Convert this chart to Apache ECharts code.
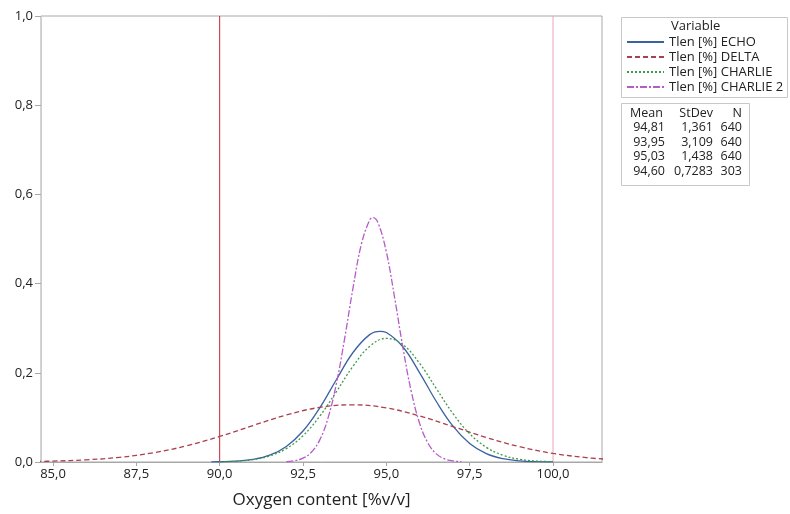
<!DOCTYPE html>
<html><head><meta charset="utf-8">
<script src="https://cdn.jsdelivr.net/npm/echarts@6/dist/echarts.min.js"></script>
<style>html,body{margin:0;padding:0;background:#fff}#c{width:790px;height:514px}</style>
</head><body><div id="c"></div>
<script>
// Data (normal density curves)
const seriesNames = ['Tlen [%] ECHO', 'Tlen [%] DELTA', 'Tlen [%] CHARLIE', 'Tlen [%] CHARLIE 2'];

const echoX = [89.75, 90, 90.5, 91, 91.5, 92, 92.5, 93, 93.5, 94, 94.5, 94.81, 95, 95.5, 96, 96.5, 97, 97.5, 98, 98.5, 99, 99.5, 100];
const echoY = [0.0003, 0.0006, 0.0020, 0.0058, 0.0152, 0.0348, 0.0694, 0.1210, 0.1845, 0.2455, 0.2856, 0.2931, 0.2903, 0.2578, 0.2000, 0.1356, 0.0803, 0.0416, 0.0188, 0.0074, 0.0026, 0.0008, 0.0002];

const deltaX = [84.5, 85, 86, 87, 88, 89, 90, 91, 92, 93, 94, 95, 96, 97, 98, 99, 100, 101, 101.5];
const deltaY = [0.0013, 0.0020, 0.0049, 0.0105, 0.0206, 0.0361, 0.0572, 0.0818, 0.1054, 0.1224, 0.1283, 0.1212, 0.1032, 0.0793, 0.0549, 0.0343, 0.0193, 0.0098, 0.0067];

const charlieX = [90, 90.5, 91, 91.5, 92, 92.5, 93, 93.5, 94, 94.5, 95, 95.5, 96, 96.5, 97, 97.5, 98, 98.5, 99, 99.5, 100];
const charlieY = [0.0006, 0.0019, 0.0055, 0.0136, 0.0301, 0.0590, 0.1024, 0.1575, 0.2146, 0.2592, 0.2773, 0.2630, 0.2210, 0.1645, 0.1085, 0.0634, 0.0329, 0.0151, 0.0061, 0.0022, 0.0007];

const charlie2X = [92, 92.25, 92.5, 92.75, 93, 93.25, 93.5, 93.75, 94, 94.25, 94.5, 94.6, 94.75, 95, 95.25, 95.5, 95.75, 96, 96.25, 96.5, 96.75, 97, 97.25];
const charlie2Y = [0.0009, 0.0030, 0.0086, 0.0218, 0.0490, 0.0983, 0.1751, 0.2772, 0.3901, 0.4880, 0.5427, 0.5478, 0.5363, 0.4711, 0.3679, 0.2553, 0.1575, 0.0863, 0.0421, 0.0182, 0.0070, 0.0024, 0.0007];

const xTicks = [85, 87.5, 90, 92.5, 95, 97.5, 100];
const refLines = [90, 100];
const yRange = [0, 1];

const statHeader = ['Mean', 'StDev', 'N'];
const statMean = ['94,81', '93,95', '95,03', '94,60'];
const statStDev = ['1,361', '3,109', '1,438', '0,7283'];
const statN = ['640', '640', '640', '303'];

const colors = ['#3a62a0', '#a8404e', '#3f9a48', '#b45cc8'];
const dashTypes = ['solid', [5, 3], [2, 2], [7, 2, 2, 2]];
const refColors = ['#cc2233', '#e8a8b8'];

function pairs(xs, ys) { return xs.map((x, i) => [x, ys[i]]); }
const dataSets = [pairs(echoX, echoY), pairs(deltaX, deltaY), pairs(charlieX, charlieY), pairs(charlie2X, charlie2Y)];

const fmt = v => (Math.round(v * 10) / 10).toFixed(1).replace('.', ',');
const FONT = '"Open Sans", "Noto Sans", sans-serif';

const series = refLines.map((r, i) => ({
  name: 'ref' + i, type: 'line', data: yRange.map(y => [r, y]), symbol: 'none',
  lineStyle: { color: refColors[i], width: 1, type: 'solid' }, itemStyle: { color: refColors[i] },
  silent: true, z: 1
})).concat(seriesNames.map((n, i) => ({
  name: n, type: 'line', data: dataSets[i], symbol: 'none', smooth: 0.4,
  lineStyle: { color: colors[i], width: 1.3, type: dashTypes[i] },
  itemStyle: { color: colors[i] },
  z: 3
})));

const chart = echarts.init(document.getElementById('c'));
const statTexts = [];
const rowY = [113, 127.5, 142, 156.5, 171];
const colRight = [665, 713, 742];
const SF = '12.5px ' + FONT;
statHeader.forEach((h, j) => {
  statTexts.push({ type: 'text', x: j === 0 ? 630 : colRight[j], y: rowY[0],
    style: { text: h, font: SF, fill: '#222', textAlign: j === 0 ? 'left' : 'right', textVerticalAlign: 'middle' } });
});
[statMean, statStDev, statN].forEach((col, j) => {
  col.forEach((t, r) => {
    statTexts.push({ type: 'text', x: colRight[j], y: rowY[r + 1],
      style: { text: t, font: SF, fill: '#222', textAlign: 'right', textVerticalAlign: 'middle' } });
  });
});

chart.setOption({
  animation: false,
  color: colors,
  grid: { left: 41, right: 188, top: 16, bottom: 49, show: true, borderColor: '#a8a8a8', borderWidth: 1 },
  xAxis: {
    type: 'value', min: 84.64, max: 101.47,
    name: 'Oxygen content [%v/v]', nameLocation: 'middle', nameGap: 30,
    nameTextStyle: { fontSize: 17, color: '#222', fontFamily: FONT },
    axisLine: { show: true, lineStyle: { color: '#a8a8a8' } },
    axisTick: { show: true, length: 4, lineStyle: { color: '#a8a8a8' }, customValues: xTicks },
    axisLabel: { customValues: xTicks, formatter: fmt, fontSize: 13, color: '#222', fontFamily: FONT, margin: 6 },
    splitLine: { show: false }
  },
  yAxis: {
    type: 'value', min: 0, max: 1, interval: 0.2,
    axisLine: { show: true, lineStyle: { color: '#cccccc' } },
    axisTick: { show: true, length: 6, lineStyle: { color: '#a8a8a8' } },
    axisLabel: { formatter: fmt, fontSize: 13, color: '#222', fontFamily: FONT, margin: 8 },
    splitLine: { show: false }
  },
  legend: {
    orient: 'vertical', left: 626, top: 35, padding: 0, itemWidth: 37, itemHeight: 14, itemGap: 1, itemTextGap: 8,
    itemStyle: { opacity: 0 },
    textStyle: { fontSize: 13, color: '#222', fontFamily: FONT, lineHeight: 14 },
    data: seriesNames
  },
  graphic: [
    { type: 'rect', shape: { x: 621.5, y: 17.5, width: 166, height: 80 }, style: { fill: '#fff', stroke: '#c8c8c8', lineWidth: 1 }, z: -1 },
    { type: 'text', x: 671, y: 26, style: { text: 'Variable', font: '13px ' + FONT, fill: '#222', textVerticalAlign: 'middle' } },
    { type: 'rect', shape: { x: 621.5, y: 103.5, width: 128, height: 82 }, style: { fill: '#fff', stroke: '#c8c8c8', lineWidth: 1 }, z: -1 }
  ].concat(statTexts),
  series: series
});
</script></body></html>
